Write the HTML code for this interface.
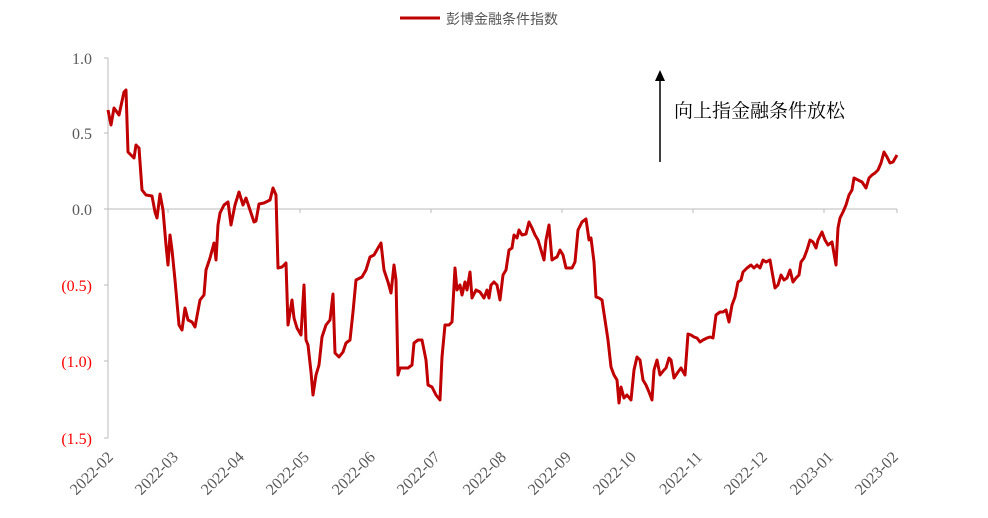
<!DOCTYPE html>
<html><head><meta charset="utf-8"><style>
body{margin:0;background:#fff;}
svg{display:block;font-family:"Liberation Serif","Noto Serif CJK SC",serif;}
</style></head><body>
<svg width="988" height="518" viewBox="0 0 988 518">
<line x1="400" y1="18" x2="440" y2="18" stroke="#c00000" stroke-width="3"/>
<text x="446" y="24" font-size="14" fill="#555" font-family="Liberation Sans,Noto Sans CJK SC,sans-serif">彭博金融条件指数</text>
<line x1="108" y1="58" x2="108" y2="438" stroke="#bbb"/>
<g stroke="#bbb"><line x1="104" y1="58" x2="108" y2="58"/><line x1="104" y1="133" x2="108" y2="133"/><line x1="104" y1="209" x2="108" y2="209"/><line x1="104" y1="285" x2="108" y2="285"/><line x1="104" y1="361" x2="108" y2="361"/><line x1="104" y1="438" x2="108" y2="438"/>
<line x1="108" y1="209" x2="897" y2="209"/>
<line x1="168" y1="209" x2="168" y2="213"/><line x1="300" y1="209" x2="300" y2="213"/><line x1="431" y1="209" x2="431" y2="213"/><line x1="562" y1="209" x2="562" y2="213"/><line x1="693" y1="209" x2="693" y2="213"/><line x1="824" y1="209" x2="824" y2="213"/><line x1="897" y1="209" x2="897" y2="213"/></g>
<g font-size="16" text-anchor="end">
<text x="92" y="64" fill="#595959">1.0</text><text x="92" y="139" fill="#595959">0.5</text><text x="92" y="215" fill="#595959">0.0</text>
<text x="92" y="291" fill="#ff0000">(0.5)</text><text x="92" y="367" fill="#ff0000">(1.0)</text><text x="92" y="444" fill="#ff0000">(1.5)</text></g>
<g font-size="16" fill="#595959" text-anchor="end">
<text transform="translate(114,458) rotate(-45)">2022-02</text>
<text transform="translate(179,458) rotate(-45)">2022-03</text>
<text transform="translate(245,458) rotate(-45)">2022-04</text>
<text transform="translate(310,458) rotate(-45)">2022-05</text>
<text transform="translate(376,458) rotate(-45)">2022-06</text>
<text transform="translate(441,458) rotate(-45)">2022-07</text>
<text transform="translate(507,458) rotate(-45)">2022-08</text>
<text transform="translate(572,458) rotate(-45)">2022-09</text>
<text transform="translate(637,458) rotate(-45)">2022-10</text>
<text transform="translate(703,458) rotate(-45)">2022-11</text>
<text transform="translate(768,458) rotate(-45)">2022-12</text>
<text transform="translate(834,458) rotate(-45)">2023-01</text>
<text transform="translate(899,458) rotate(-45)">2023-02</text></g>
<line x1="660" y1="162" x2="660" y2="80" stroke="#000" stroke-width="1.5"/>
<polygon points="660,70 655,81 665,81" fill="#000"/>
<text x="674" y="117" font-size="19" fill="#000">向上指金融条件放松</text>
<polyline fill="none" stroke="#c00000" stroke-width="3" stroke-linejoin="round" points="108,110 111,125 114,108 119,115 124,92 126,90 128,152 134,158 136,145 139,148 142,190 146,195 152,196 155,212 157,218 160,194 163,210 166,245 168,265 170,235 172,250 175,280 179,325 182,330 185,308 188,320 192,322 195,327 200,300 204,295 206,270 210,258 214,243 216,260 218,225 220,213 224,205 228,202 231,225 235,205 239,192 243,205 246,198 250,210 254,222 256,221 259,204 264,203 270,200 273,188 276,195 278,268 282,267 286,263 288,325 292,300 294,318 297,328 301,335 304,285 306,340 308,345 311,372 313,395 316,375 319,365 322,337 326,325 330,320 333,294 335,353 339,357 343,352 346,343 350,340 353,312 356,280 362,277 366,270 370,257 374,255 378,248 381,243 384,270 388,282 391,293 394,265 396,280 398,375 400,368 404,368 408,368 412,365 414,343 418,340 422,340 426,360 428,385 432,387 436,395 440,400 442,357 445,325 449,325 452,322 455,268 457,290 460,285 462,295 465,282 467,290 470,272 472,298 476,290 480,292 484,298 487,290 489,298 491,285 494,282 497,285 500,300 503,275 506,270 509,250 512,248 514,235 517,238 519,230 522,235 526,234 529,222 532,228 535,235 538,240 541,250 544,260 546,240 549,225 552,260 555,258 557,257 560,250 563,255 566,268 569,268 572,268 575,262 578,230 582,222 586,219 589,240 591,238 594,262 596,297 599,298 602,300 605,320 608,340 611,367 614,375 617,380 619,403 621,387 624,398 627,395 631,400 634,370 637,357 640,360 643,380 646,385 649,392 652,400 654,370 657,360 660,375 664,370 666,368 669,358 671,360 674,378 678,372 681,368 685,375 688,334 691,335 694,337 697,338 700,342 703,340 707,338 710,337 713,338 716,315 720,312 723,312 726,310 729,322 732,305 735,297 738,282 741,280 743,272 747,268 751,265 754,268 757,265 760,268 763,260 766,262 770,260 773,277 775,288 778,285 781,275 784,280 787,278 790,270 793,282 796,278 799,275 801,262 804,258 807,250 810,240 813,242 816,248 818,240 822,232 825,240 828,245 832,242 836,265 838,228 840,218 843,212 846,205 849,195 852,190 854,178 858,180 862,182 866,188 869,178 872,175 875,173 878,170 881,163 884,152 887,157 890,163 893,162 897,155"/>
</svg>
</body></html>
